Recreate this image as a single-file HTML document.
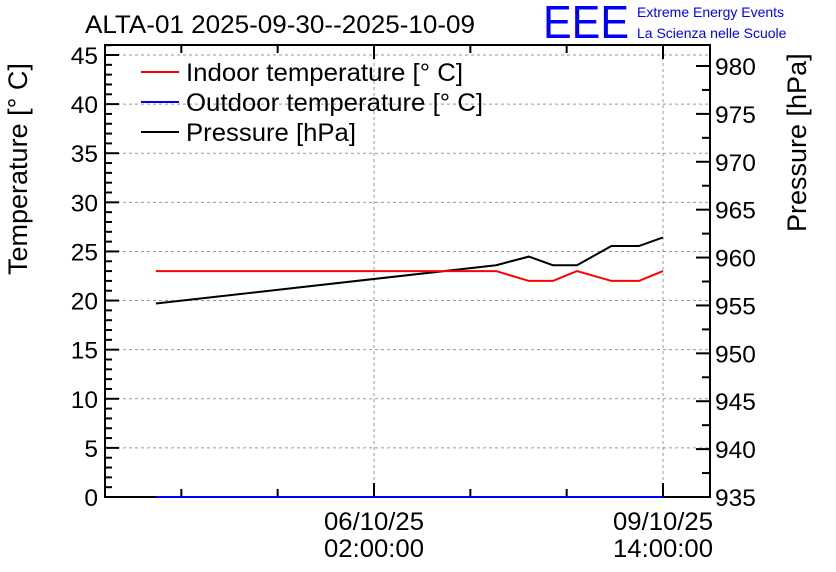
<!DOCTYPE html>
<html><head><meta charset="utf-8"><style>
body{margin:0;background:#fff}
svg{display:block;font-family:"Liberation Sans",sans-serif}
</style></head><body>
<svg width="836" height="572" viewBox="0 0 836 572" id="chart">
<rect width="836" height="572" fill="#fff"/>
<text x="85" y="33" font-size="25" textLength="390" lengthAdjust="spacingAndGlyphs">ALTA-01 2025-09-30--2025-10-09</text>
<text x="543" y="38" font-size="46" fill="#00f" textLength="86" lengthAdjust="spacingAndGlyphs">EEE</text>
<text x="637" y="17" font-size="14" fill="#00f">Extreme Energy Events</text>
<text x="637" y="38" font-size="14" fill="#00f">La Scienza nelle Scuole</text>
<text transform="translate(27,275) rotate(-90)" font-size="27">Temperature [° C]</text>
<text transform="translate(806,232) rotate(-90)" font-size="27">Pressure [hPa]</text>
<g id="grid"></g><g id="axes"></g>
<g>
<line x1="141" y1="72" x2="179" y2="72" stroke="#f00" stroke-width="2"/>
<text x="186" y="81" font-size="25" textLength="277" lengthAdjust="spacingAndGlyphs">Indoor temperature [° C]</text>
<line x1="141" y1="102" x2="179" y2="102" stroke="#00f" stroke-width="2"/>
<text x="186" y="111" font-size="25" textLength="297" lengthAdjust="spacingAndGlyphs">Outdoor temperature [° C]</text>
<line x1="141" y1="132" x2="179" y2="132" stroke="#000" stroke-width="2"/>
<text x="186" y="141" font-size="25" textLength="170" lengthAdjust="spacingAndGlyphs">Pressure [hPa]</text>
</g>
<rect x="105" y="45" width="605" height="452" fill="none" stroke="#000" stroke-width="2"/>
<g id="series"></g>
</svg>
<script>
// hours relative to 06/10/25 02:00:00
const timesH=[-63.4,35.5,45,52,59,69,77,84];
const indoorT=[23,23,22,22,23,22,22,23];
const outdoorT=[0,0,0,0,0,0,0,0];
const pressure=[955.2,959.2,960.1,959.2,959.2,961.2,961.2,962.1];
const tempTicks=[0,5,10,15,20,25,30,35,40,45];
const presTicks=[935,940,945,950,955,960,965,970,975,980];
const xLabelH=[0,84];
const xLabels=[["06/10/25","02:00:00"],["09/10/25","14:00:00"]];
const NS="http://www.w3.org/2000/svg";
const X=h=>374+h*(289/84);
const YT=t=>497-t*(442/45);
const YP=p=>497-(p-935)*(431/45);
function mk(tag,attrs,parent){const e=document.createElementNS(NS,tag);for(const k in attrs)e.setAttribute(k,attrs[k]);document.getElementById(parent).appendChild(e);return e;}
tempTicks.forEach(t=>{if(t>0){const g=mk('line',{x1:105,x2:710,y1:YT(t),y2:YT(t),stroke:'#999','stroke-dasharray':'3,3'},'grid');

}});
xLabelH.forEach(h=>{const g=mk('line',{x1:X(h),x2:X(h),y1:45,y2:497,stroke:'#999','stroke-dasharray':'3,3'},'grid');

});
for(let v=0;v<=46;v++){const len=v%5===0?14:7;mk('line',{x1:105,x2:105+len,y1:YT(v),y2:YT(v),stroke:'#000','stroke-width':2},'axes');}
tempTicks.forEach(t=>{const e=mk('text',{x:98,y:YT(t)+9,'text-anchor':'end','font-size':24.5},'axes');e.textContent=t;

});
for(let v=935;v<=982;v+=2.5){const len=(v%5===0)?14:8;mk('line',{x1:710-len,x2:710,y1:YP(v),y2:YP(v),stroke:'#000','stroke-width':2},'axes');}
presTicks.forEach(p=>{const e=mk('text',{x:715,y:YP(p)+9,'font-size':24.5},'axes');e.textContent=p;

});
for(let h=-112;h<=90;h+=28){const x=X(h);if(x<106||x>709)continue;const len=(h%84===0)?14:8;
mk('line',{x1:x,x2:x,y1:497,y2:497-len,stroke:'#000','stroke-width':2},'axes');
mk('line',{x1:x,x2:x,y1:45,y2:45+len,stroke:'#000','stroke-width':2},'axes');}
xLabelH.forEach((h,i)=>{xLabels[i].forEach((s,j)=>{const e=mk('text',{x:X(h),y:530+j*27,'text-anchor':'middle','font-size':25,textLength:100,lengthAdjust:'spacingAndGlyphs'},'axes');e.textContent=s;

});});
function line(vals,Y,color,name){const pts=timesH.map((h,i)=>X(h)+','+Y(vals[i])).join(' ');
const e=mk('polyline',{points:pts,fill:'none',stroke:color,'stroke-width':2},'series');

}
line(outdoorT,YT,'#00f','outdoor-temperature-line');
line(pressure,YP,'#000','pressure-line');
line(indoorT,YT,'#f00','indoor-temperature-line');
</script>
</body></html>
